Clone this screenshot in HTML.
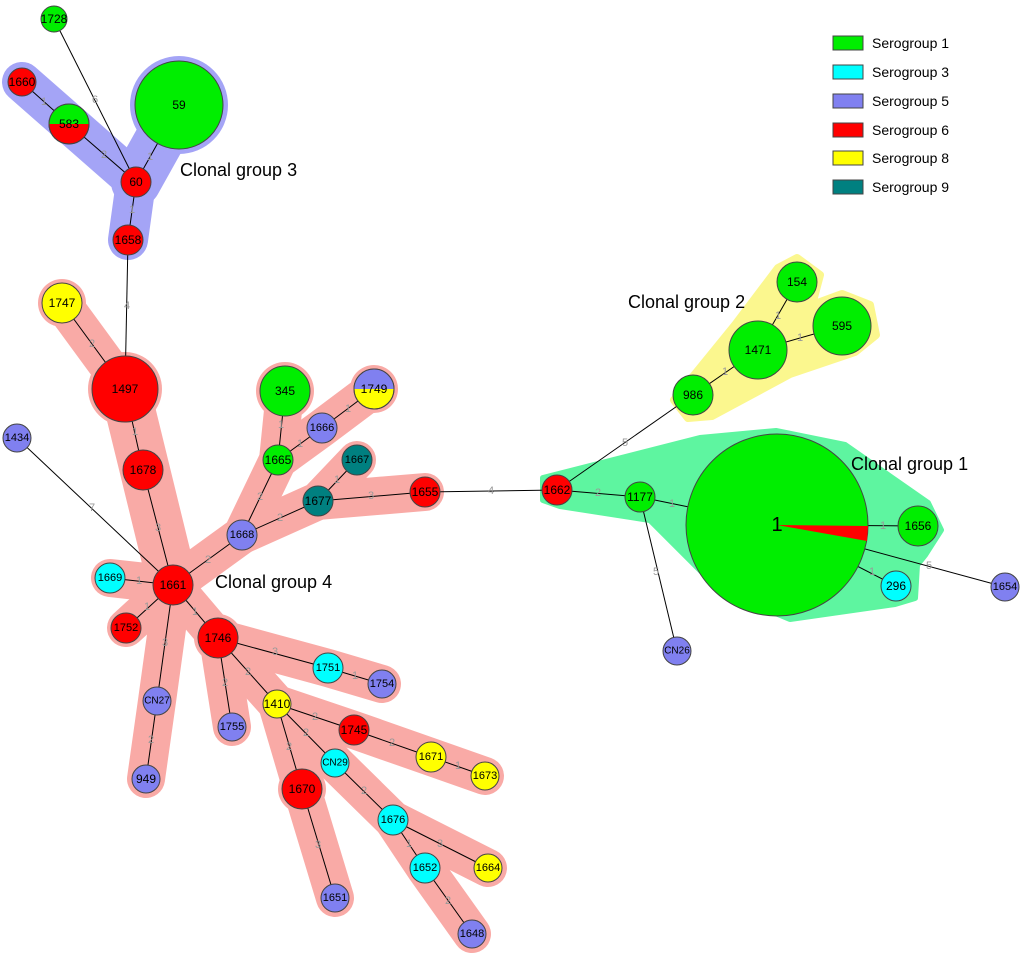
<!DOCTYPE html>
<html><head><meta charset="utf-8"><style>
html,body{margin:0;padding:0;background:#fff;}
svg{display:block;font-family:"Liberation Sans",sans-serif;}
.n{stroke:#444;stroke-width:1;}
.t{font-size:12px;text-anchor:middle;dominant-baseline:central;fill:#000;}
.e{stroke:#000;stroke-width:1;}
.l{font-size:11px;fill:#999;text-anchor:middle;dominant-baseline:central;}
.h4{stroke:#f9aaa6;fill:none;stroke-linecap:round;stroke-linejoin:round;}
.h3{stroke:#a4a4f6;fill:none;stroke-linecap:round;stroke-linejoin:round;}
</style></head><body>
<svg width="1024" height="956" viewBox="0 0 1024 956" xmlns="http://www.w3.org/2000/svg">
<g class="h3" stroke-width="40">
<line x1="22" y1="82" x2="136" y2="182"/>
<line x1="136" y1="182" x2="128" y2="240"/>
<line x1="179" y1="105" x2="136" y2="182" stroke-width="50"/>
</g>
<circle cx="179" cy="105" r="49" fill="#a4a4f6"/>
<g class="h4" stroke-width="38">
<line x1="62" y1="303" x2="125" y2="389"/>
<line x1="125" y1="389" x2="173" y2="585" stroke-width="50"/>
<line x1="173" y1="585" x2="110" y2="578"/>
<line x1="173" y1="585" x2="126" y2="628"/>
<polyline points="173,585 157,701 146,779"/>
<polyline points="173,585 218,638 232,727"/>
<polyline points="218,638 328,668 382,684"/>
<polyline points="218,638 277,704 354,730 431,757 485,776"/>
<polyline points="277,704 335,763 393,820 488,868"/>
<polyline points="393,820 425,868 472,934"/>
<polyline points="277,704 302,789 335,898"/>
<polyline points="173,585 242,535 278,460 285,391"/>
<polyline points="278,460 322,428 374,389"/>
<polyline points="242,535 318,501 357,460"/>
<line x1="318" y1="501" x2="425" y2="492"/>
</g>
<g fill="#f9aaa6">
<circle cx="62" cy="303" r="24"/><circle cx="125" cy="389" r="37"/><circle cx="285" cy="391" r="29"/><circle cx="374" cy="389" r="24"/><circle cx="302" cy="789" r="24"/><circle cx="173" cy="585" r="24"/><circle cx="218" cy="638" r="24"/>
</g>
<polygon points="674,400 735,325 778,268 797,258 820,275 812,305 842,294 870,305 876,335 855,352 790,374 712,416 688,418" fill="#fbf78e" stroke="#fbf78e" stroke-width="8" stroke-linejoin="round"/>
<polygon points="543,478 700,438 776,431 845,445 928,503 941,530 925,555 917,565 915,598 895,604 790,619 720,590 650,520 560,506 543,500" fill="#5ef5a0" stroke="#5ef5a0" stroke-width="6" stroke-linejoin="round"/>

<g class="e">
<line x1="54" y1="19" x2="136" y2="182"/><line x1="22" y1="82" x2="69" y2="124"/><line x1="69" y1="124" x2="136" y2="182"/><line x1="179" y1="105" x2="136" y2="182"/><line x1="136" y1="182" x2="128" y2="240"/><line x1="128" y1="240" x2="125" y2="389"/>
<line x1="62" y1="303" x2="125" y2="389"/><line x1="125" y1="389" x2="143" y2="470"/><line x1="143" y1="470" x2="173" y2="585"/><line x1="17" y1="438" x2="173" y2="585"/><line x1="110" y1="578" x2="173" y2="585"/><line x1="126" y1="628" x2="173" y2="585"/>
<line x1="173" y1="585" x2="157" y2="701"/><line x1="157" y1="701" x2="146" y2="779"/><line x1="173" y1="585" x2="218" y2="638"/><line x1="218" y1="638" x2="232" y2="727"/><line x1="218" y1="638" x2="328" y2="668"/><line x1="328" y1="668" x2="382" y2="684"/>
<line x1="218" y1="638" x2="277" y2="704"/><line x1="277" y1="704" x2="354" y2="730"/><line x1="354" y1="730" x2="431" y2="757"/><line x1="431" y1="757" x2="485" y2="776"/><line x1="277" y1="704" x2="335" y2="763"/><line x1="277" y1="704" x2="302" y2="789"/><line x1="302" y1="789" x2="335" y2="898"/>
<line x1="335" y1="763" x2="393" y2="820"/><line x1="393" y1="820" x2="488" y2="868"/><line x1="393" y1="820" x2="425" y2="868"/><line x1="425" y1="868" x2="472" y2="934"/>
<line x1="173" y1="585" x2="242" y2="535"/><line x1="242" y1="535" x2="278" y2="460"/><line x1="278" y1="460" x2="285" y2="391"/><line x1="278" y1="460" x2="322" y2="428"/><line x1="322" y1="428" x2="374" y2="389"/><line x1="242" y1="535" x2="318" y2="501"/><line x1="318" y1="501" x2="357" y2="460"/><line x1="318" y1="501" x2="425" y2="492"/>
<line x1="425" y1="492" x2="557" y2="490"/><line x1="557" y1="490" x2="640" y2="497"/><line x1="557" y1="490" x2="693" y2="395"/><line x1="693" y1="395" x2="758" y2="350"/><line x1="758" y1="350" x2="797" y2="282"/><line x1="758" y1="350" x2="842" y2="326"/>
<line x1="640" y1="497" x2="777" y2="525"/><line x1="640" y1="497" x2="677" y2="651"/><line x1="777" y1="525" x2="918" y2="526"/><line x1="777" y1="525" x2="896" y2="586"/><line x1="777" y1="525" x2="1005" y2="587"/>
</g>
<g class="l">
<text x="95" y="100">6</text><text x="44" y="102">1</text><text x="104" y="155">2</text><text x="150" y="157">1</text><text x="132" y="210">1</text><text x="127" y="306">4</text>
<text x="92" y="344">2</text><text x="135" y="432">1</text><text x="158" y="528">3</text><text x="92" y="508">7</text><text x="139" y="581">1</text><text x="147" y="607">1</text>
<text x="165" y="643">3</text><text x="151" y="740">2</text><text x="195" y="612">1</text><text x="225" y="683">2</text><text x="275" y="652">3</text><text x="355" y="676">1</text>
<text x="248" y="672">2</text><text x="315" y="717">2</text><text x="392" y="743">2</text><text x="458" y="766">1</text><text x="306" y="733">2</text><text x="289" y="747">2</text><text x="318" y="845">3</text>
<text x="364" y="791">2</text><text x="440" y="844">3</text><text x="409" y="844">1</text><text x="448" y="901">2</text>
<text x="208" y="560">2</text><text x="260" y="497">2</text><text x="281" y="425">1</text><text x="300" y="444">1</text><text x="348" y="409">1</text><text x="280" y="518">2</text><text x="337" y="480">1</text><text x="371" y="496">3</text>
<text x="491" y="491">4</text><text x="598" y="493">2</text><text x="625" y="443">5</text><text x="725" y="372">1</text><text x="778" y="316">1</text><text x="800" y="338">1</text>
<text x="672" y="504">1</text><text x="656" y="572">5</text><text x="883" y="526">1</text><text x="872" y="572">1</text><text x="929" y="566">5</text>
</g>

<defs>
<clipPath id="c583t"><rect x="40" y="90" width="60" height="34"/></clipPath>
<clipPath id="c1749t"><rect x="340" y="360" width="70" height="29"/></clipPath>
</defs>
<g class="n">
<circle cx="54" cy="19" r="13" fill="#00ee00"/>
<circle cx="22" cy="82" r="14" fill="#ff0000"/>
<circle cx="69" cy="124" r="20" fill="#ff0000"/>
<circle cx="69" cy="124" r="20" fill="#00ee00" clip-path="url(#c583t)" stroke="none"/>
<circle cx="69" cy="124" r="20" fill="none"/>
<circle cx="179" cy="105" r="44" fill="#00ee00"/>
<circle cx="136" cy="182" r="15" fill="#ff0000"/>
<circle cx="128" cy="240" r="15" fill="#ff0000"/>
<circle cx="62" cy="303" r="20" fill="#ffff00"/>
<circle cx="125" cy="389" r="33" fill="#ff0000"/>
<circle cx="143" cy="470" r="20" fill="#ff0000"/>
<circle cx="17" cy="438" r="14" fill="#8080f0"/>
<circle cx="173" cy="585" r="20" fill="#ff0000"/>
<circle cx="110" cy="578" r="15" fill="#00ffff"/>
<circle cx="126" cy="628" r="15" fill="#ff0000"/>
<circle cx="218" cy="638" r="20" fill="#ff0000"/>
<circle cx="157" cy="701" r="14" fill="#8080f0"/>
<circle cx="146" cy="779" r="14" fill="#8080f0"/>
<circle cx="232" cy="727" r="14" fill="#8080f0"/>
<circle cx="328" cy="668" r="15" fill="#00ffff"/>
<circle cx="382" cy="684" r="14" fill="#8080f0"/>
<circle cx="277" cy="704" r="14" fill="#ffff00"/>
<circle cx="354" cy="730" r="15" fill="#ff0000"/>
<circle cx="431" cy="757" r="15" fill="#ffff00"/>
<circle cx="485" cy="776" r="14" fill="#ffff00"/>
<circle cx="335" cy="763" r="14" fill="#00ffff"/>
<circle cx="302" cy="789" r="20" fill="#ff0000"/>
<circle cx="335" cy="898" r="14" fill="#8080f0"/>
<circle cx="393" cy="820" r="15" fill="#00ffff"/>
<circle cx="425" cy="868" r="15" fill="#00ffff"/>
<circle cx="472" cy="934" r="14" fill="#8080f0"/>
<circle cx="488" cy="868" r="14" fill="#ffff00"/>
<circle cx="242" cy="535" r="15" fill="#8080f0"/>
<circle cx="278" cy="460" r="15" fill="#00ee00"/>
<circle cx="285" cy="391" r="25" fill="#00ee00"/>
<circle cx="322" cy="428" r="15" fill="#8080f0"/>
<circle cx="374" cy="389" r="20" fill="#ffff00"/>
<circle cx="374" cy="389" r="20" fill="#8080f0" clip-path="url(#c1749t)" stroke="none"/>
<circle cx="374" cy="389" r="20" fill="none"/>
<circle cx="318" cy="501" r="15" fill="#008080"/>
<circle cx="357" cy="460" r="15" fill="#008080"/>
<circle cx="425" cy="492" r="15" fill="#ff0000"/>
<circle cx="557" cy="490" r="15" fill="#ff0000"/>
<circle cx="640" cy="497" r="15" fill="#00ee00"/>
<circle cx="693" cy="395" r="20" fill="#00ee00"/>
<circle cx="758" cy="350" r="29" fill="#00ee00"/>
<circle cx="797" cy="282" r="20" fill="#00ee00"/>
<circle cx="842" cy="326" r="29" fill="#00ee00"/>
<circle cx="777" cy="525" r="91" fill="#00ee00"/>
<circle cx="918" cy="526" r="20" fill="#00ee00"/>
<circle cx="896" cy="586" r="15" fill="#00ffff"/>
<circle cx="1005" cy="587" r="14" fill="#8080f0"/>
<circle cx="677" cy="651" r="14" fill="#8080f0"/>
</g>
<polygon points="777,525 868,526 867,541" fill="#ff0000"/>
<g class="t">
<text x="54" y="19">1728</text><text x="22" y="82">1660</text><text x="69" y="124">583</text><text x="179" y="105">59</text><text x="136" y="182">60</text><text x="128" y="240">1658</text>
<text x="62" y="303">1747</text><text x="125" y="389">1497</text><text x="143" y="470">1678</text><text x="17" y="438" style="font-size:11px">1434</text><text x="173" y="585">1661</text><text x="110" y="578" style="font-size:11px">1669</text><text x="126" y="628" style="font-size:11px">1752</text>
<text x="218" y="638">1746</text><text x="157" y="701" style="font-size:10px">CN27</text><text x="146" y="779">949</text><text x="232" y="727" style="font-size:11px">1755</text><text x="328" y="668" style="font-size:11px">1751</text><text x="382" y="684" style="font-size:11px">1754</text>
<text x="277" y="704">1410</text><text x="354" y="730">1745</text><text x="431" y="757" style="font-size:11px">1671</text><text x="485" y="776" style="font-size:11px">1673</text><text x="335" y="763" style="font-size:10px">CN29</text><text x="302" y="789">1670</text><text x="335" y="898" style="font-size:11px">1651</text>
<text x="393" y="820" style="font-size:11px">1676</text><text x="425" y="868" style="font-size:11px">1652</text><text x="472" y="934" style="font-size:11px">1648</text><text x="488" y="868" style="font-size:11px">1664</text>
<text x="242" y="535" style="font-size:11px">1668</text><text x="278" y="460">1665</text><text x="285" y="391">345</text><text x="322" y="428" style="font-size:11px">1666</text><text x="374" y="389">1749</text><text x="318" y="501">1677</text><text x="357" y="460" style="font-size:11px">1667</text><text x="425" y="492">1655</text>
<text x="557" y="490">1662</text><text x="640" y="497">1177</text><text x="693" y="395">986</text><text x="758" y="350">1471</text><text x="797" y="282">154</text><text x="842" y="326">595</text>
<text x="777" y="525" style="font-size:20px">1</text><text x="918" y="526">1656</text><text x="896" y="586">296</text><text x="1005" y="587" style="font-size:11px">1654</text><text x="677" y="651" style="font-size:10px">CN26</text>
</g>
<g style="font-size:18px" fill="#000">
<text x="180" y="176">Clonal group 3</text>
<text x="628" y="308">Clonal group 2</text>
<text x="851" y="470">Clonal group 1</text>
<text x="215" y="588">Clonal group 4</text>
</g>
<g class="n">
<rect x="833" y="36" width="30" height="14" fill="#00ee00"/>
<rect x="833" y="65" width="30" height="14" fill="#00ffff"/>
<rect x="833" y="94" width="30" height="14" fill="#8080f0"/>
<rect x="833" y="123" width="30" height="14" fill="#ff0000"/>
<rect x="833" y="151" width="30" height="14" fill="#ffff00"/>
<rect x="833" y="180" width="30" height="14" fill="#008080"/>
</g>
<g style="font-size:14px" fill="#000">
<text x="872" y="48">Serogroup 1</text>
<text x="872" y="77">Serogroup 3</text>
<text x="872" y="106">Serogroup 5</text>
<text x="872" y="135">Serogroup 6</text>
<text x="872" y="163">Serogroup 8</text>
<text x="872" y="192">Serogroup 9</text>
</g>
</svg>
</body></html>
